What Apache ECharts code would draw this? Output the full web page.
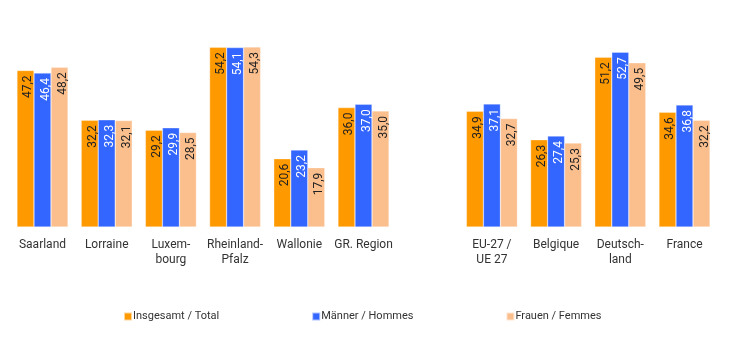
<!DOCTYPE html>
<html>
<head>
<meta charset="utf-8">
<script src="https://cdn.jsdelivr.net/npm/echarts@6/dist/echarts.min.js"></script>
<style>
  html, body { margin: 0; padding: 0; background: #fff; }
  #chart { width: 730px; height: 344px; }
</style>
</head>
<body>
<div id="chart"></div>
<script>
// Regions; the empty entry separates the Greater Region from the national figures
const categories = ['Saarland', 'Lorraine', 'Luxem-\nbourg', 'Rheinland-\nPfalz', 'Wallonie', 'GR. Region', '', 'EU-27 /\nUE 27', 'Belgique', 'Deutsch-\nland', 'France'];
const total  = [47.2, 32.2, 29.2, 54.2, 20.6, 36.0, null, 34.9, 26.3, 51.2, 34.6];
const men    = [46.4, 32.3, 29.9, 54.1, 23.2, 37.0, null, 37.1, 27.4, 52.7, 36.8];
const women  = [48.2, 32.1, 28.5, 54.3, 17.9, 35.0, null, 32.7, 25.3, 49.5, 32.2];
const seriesNames = ['Insgesamt / Total', 'Männer / Hommes', 'Frauen / Femmes'];
const colors = ['#FF9900', '#3366FF', '#FBBF8E'];
const labelColors = ['#222', '#ffffff', '#222'];

const fmt = v => v.toFixed(1).replace('.', ',');

function makeSeries(name, data, idx) {
  return {
    name: name,
    type: 'bar',
    data: data.map(v => v === null ? '-' : v),
    barGap: '0%',
    barCategoryGap: '20.5%',
    itemStyle: { color: colors[idx], borderColor: 'rgba(255,255,255,0.6)', borderWidth: 0.5 },
    label: {
      show: true,
      position: 'insideTop',
      rotate: 90,
      align: 'right',
      verticalAlign: 'middle',
      distance: 5,
      offset: [0, 3],
      fontFamily: 'Roboto',
      fontSize: 12,
      color: labelColors[idx],
      formatter: p => fmt(p.value)
    }
  };
}

const chart = echarts.init(document.getElementById('chart'), null, { renderer: 'canvas' });
chart.setOption({
  animation: false,
  backgroundColor: '#ffffff',
  textStyle: { fontFamily: 'Roboto' },
  grid: { left: 10.4, right: 13.4, top: 28, bottom: 117, containLabel: false },
  legend: {
    top: 311,
    left: 123,
    padding: 0,
    itemWidth: 8,
    itemHeight: 8,
    itemGap: 92,
    icon: 'rect',
    textStyle: { fontFamily: 'Roboto', fontSize: 11, color: '#333', padding: [0, 0, 0, -4] },
    data: seriesNames
  },
  xAxis: {
    type: 'category',
    data: categories,
    axisLine: { show: false },
    axisTick: { show: false },
    axisLabel: {
      interval: 0,
      margin: 10,
      fontFamily: 'Roboto',
      fontSize: 12,
      color: '#333',
      lineHeight: 15
    }
  },
  yAxis: {
    type: 'value',
    min: 0,
    max: 60,
    show: false,
    splitLine: { show: false }
  },
  series: [
    makeSeries(seriesNames[0], total, 0),
    makeSeries(seriesNames[1], men, 1),
    makeSeries(seriesNames[2], women, 2)
  ]
});
</script>
</body>
</html>
